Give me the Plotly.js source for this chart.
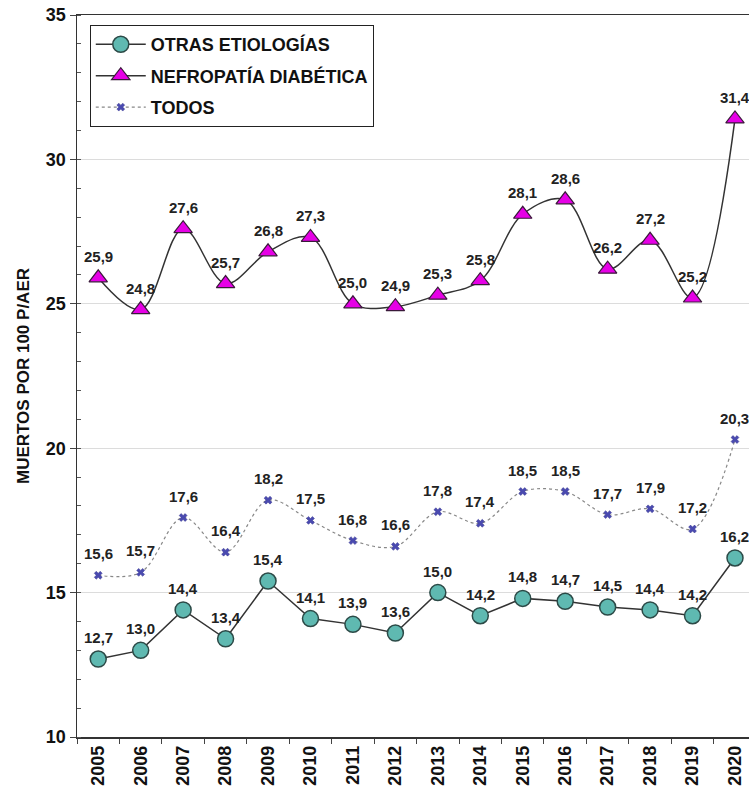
<!DOCTYPE html>
<html><head><meta charset="utf-8">
<script src="https://cdn.plot.ly/plotly-3.0.1.min.js"></script>
<style>body{margin:0;background:#fff}#c{width:749px;height:798px}</style>
</head><body><div id="c"></div>
<script>
const years = ["2005","2006","2007","2008","2009","2010","2011","2012","2013","2014","2015","2016","2017","2018","2019","2020"];
const otras = [12.7,13.0,14.4,13.4,15.4,14.1,13.9,13.6,15.0,14.2,14.8,14.7,14.5,14.4,14.2,16.2];
const nefro = [25.9,24.8,27.6,25.7,26.8,27.3,25.0,24.9,25.3,25.8,28.1,28.6,26.2,27.2,25.2,31.4];
const todos = [15.6,15.7,17.6,16.4,18.2,17.5,16.8,16.6,17.8,17.4,18.5,18.5,17.7,17.9,17.2,20.3];
const fmt = v => v.toFixed(1).replace('.', ',');
const F = "Liberation Sans, Arial, sans-serif";
const lblFont = {family: F, size: 15, color: '#222', weight: 'bold'};

const traces = [
  {x: years, y: otras, name: 'OTRAS ETIOLOGÍAS', legendgroup: 'a', mode: 'lines+markers',
   line: {color: '#333', width: 1.5},
   marker: {symbol: 'circle', size: 16, color: '#5fb9b1', line: {color: '#2c4a47', width: 1.5}}},
  {x: years, y: nefro, name: 'NEFROPATÍA DIABÉTICA', legendgroup: 'b', mode: 'lines+markers',
   line: {color: '#333', width: 1.5, shape: 'spline', smoothing: 1},
   marker: {symbol: 'triangle-up', size: 16, color: '#e600e6', line: {color: '#3a1a3a', width: 1.2}}},
  {x: years, y: todos, name: 'TODOS', legendgroup: 'c', mode: 'lines+markers',
   line: {color: '#888', width: 1.2, dash: 'dot', shape: 'spline', smoothing: 1},
   marker: {symbol: 'x', size: 7, color: '#4a4ab0', line: {color: '#3a3a90', width: 0.5}}}
];

const annotations = [];
for (const series of [otras, nefro, todos]) {
  series.forEach((v, i) => {
    annotations.push({x: i, y: v, xref: 'x', yref: 'y', text: fmt(v),
      showarrow: false, yanchor: 'bottom', xanchor: 'center', yshift: 11,
      font: lblFont});
  });
}

const layout = {
  width: 749, height: 798,
  margin: {l: 77, r: 0, t: 15, b: 61},
  paper_bgcolor: '#fff', plot_bgcolor: '#fff',
  showlegend: true,
  annotations: annotations,
  legend: {x: 0.019, y: 0.986, xanchor: 'left', yanchor: 'top',
    bordercolor: '#222', borderwidth: 1, bgcolor: '#fff',
    font: {family: F, size: 18, color: '#111', weight: 'bold'},
    itemwidth: 50, tracegroupgap: 5},
  xaxis: {type: 'category', range: [-0.5, 15.33], tickson: 'boundaries',
    ticks: 'outside', ticklen: 5, tickcolor: '#444',
    showline: true, linecolor: '#333', linewidth: 1.5, mirror: true,
    showgrid: false, tickangle: -90,
    tickfont: {family: F, size: 18, color: '#111', weight: 'bold'}},
  yaxis: {range: [10, 35], dtick: 5, ticks: 'outside', ticklen: 6, tickcolor: '#444',
    showline: true, linecolor: '#333', linewidth: 1.5,
    showgrid: true, gridcolor: '#dcdcdc', gridwidth: 1, zeroline: false,
    minor: {dtick: 1, ticks: 'inside', ticklen: 4, tickcolor: '#555', showgrid: false},
    tickfont: {family: F, size: 18, color: '#111', weight: 'bold'},
    title: {text: 'MUERTOS POR 100 P/AER', standoff: 12,
      font: {family: F, size: 17, color: '#111', weight: 'bold'}}}
};
Plotly.newPlot('c', traces, layout, {displayModeBar: false, staticPlot: true});
</script></body></html>
